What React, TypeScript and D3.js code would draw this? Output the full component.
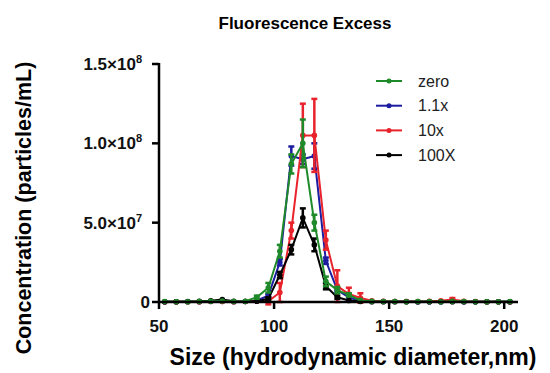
import React from 'react';
import * as d3 from 'd3';

// bin centres (nm)
const sizes = [
  52.5, 57.5, 62.5, 67.5, 72.5, 77.5, 82.5, 87.5, 92.5, 97.5, 102.5, 107.5, 112.5, 117.5, 122.5, 127.5,
  132.5, 137.5, 142.5, 147.5, 152.5, 157.5, 162.5, 167.5, 172.5, 177.5, 182.5, 187.5, 192.5, 197.5, 202.5,
];

// concentrations in 1e6 particles/mL
const zero = [0.3, 0.2, 0.2, 0.3, 0.5, 0.6, 0.3, 0.5, 3, 9, 32, 87, 100, 50, 13, 7.5, 4.5, 1, 0.5, 0.3, 0.3, 0.2, 0.3, 0.3, 0.2, 0.4, 0.3, 0.2, 0.2, 0.2, 0.3];
const zeroErr = [0, 0, 0, 0, 0, 0, 0, 0, 1, 3, 4, 6, 15, 5, 3, 2, 1, 0, 0, 0, 0, 0, 0, 0, 0, 0, 0, 0, 0, 0, 0];
const x11 = [0.2, 0.2, 0.2, 0.2, 0.3, 0.3, 0.2, 0.3, 1, 4, 25, 92, 90, 92, 26, 7.5, 3, 0.5, 0.3, 0.3, 0.3, 0.3, 0.2, 0.2, 0.2, 0.3, 0.2, 0.2, 0.2, 0.2, 0.2];
const x11Err = [0, 0, 0, 0, 0, 0, 0, 0, 0, 1, 2, 6, 3, 8, 2, 1, 0, 0, 0, 0, 0, 0, 0, 0, 0, 0, 0, 0, 0, 0, 0];
const x10 = [0.2, 0.2, 0.2, 0.2, 0.3, 0.3, 0.2, 0.3, 0.5, 0.5, 6, 45, 105, 105, 39, 10, 5, 2.5, 0.8, 0.5, 0.3, 0.3, 0.3, 0.5, 0.8, 1.5, 0.5, 0.3, 0.2, 0.2, 0.2];
const x10Err = [0, 0, 0, 0, 0, 0, 0, 0, 0, 2, 6, 5, 20, 23, 6, 10, 4, 3, 0, 0, 0, 0, 0, 0, 0, 1, 0, 0, 0, 0, 0];
const x100 = [0.2, 0.2, 0.3, 0.4, 0.8, 1.5, 0.5, 0.3, 0.5, 2, 17, 33, 53, 36, 10, 3, 1, 0.3, 0.2, 0.2, 0.2, 0.2, 0.2, 0.2, 0.2, 0.2, 0.2, 0.2, 0.2, 0.2, 0.2];
const x100Err = [0, 0, 0, 0, 0, 0, 0, 0, 0, 1, 2, 3, 6, 4, 2, 1, 0, 0, 0, 0, 0, 0, 0, 0, 0, 0, 0, 0, 0, 0, 0];

const xTicks = [50, 100, 150, 200];
const yTicks = [
  { v: 0, base: '0', exp: '' },
  { v: 5e7, base: '5.0×10', exp: '7' },
  { v: 1e8, base: '1.0×10', exp: '8' },
  { v: 1.5e8, base: '1.5×10', exp: '8' },
];

const series = [
  { name: 'zero', color: '#1f8a2a', values: zero, err: zeroErr },
  { name: '1.1x', color: '#1c1ca0', values: x11, err: x11Err },
  { name: '10x', color: '#e8232b', values: x10, err: x10Err },
  { name: '100X', color: '#000000', values: x100, err: x100Err },
];
// drawing order (last on top)
const drawOrder = ['1.1x', '10x', '100X', 'zero'];

const font = '"Liberation Sans", Arial, Helvetica, sans-serif';

export default function App() {
  const x = d3.scaleLinear().domain([50, 206]).range([159, 518]);
  const y = d3.scaleLinear().domain([0, 1.5e8]).range([302, 64]);
  const line = d3
    .line<[number, number]>()
    .x((d) => x(d[0]))
    .y((d) => y(d[1]));

  return (
    <svg width={550} height={373} style={{ position: 'absolute', left: 0, top: 0, background: '#fff' }}>
      <text x={305} y={29} textAnchor="middle" fontFamily={font} fontWeight="bold" fontSize={17}>
        Fluorescence Excess
      </text>

      {drawOrder.map((n) => {
        const s = series.find((d) => d.name === n)!;
        const pts: [number, number][] = sizes.map((v, i) => [v, s.values[i] * 1e6]);
        return (
          <g key={n}>
            <path d={line(pts) || ''} fill="none" stroke={s.color} strokeWidth={2} />
            {pts.map((p, i) =>
              s.err[i] > 0 ? (
                <g key={'e' + i} stroke={s.color} strokeWidth={2.5}>
                  <line x1={x(p[0])} x2={x(p[0])} y1={y(p[1] - s.err[i] * 1e6)} y2={y(p[1] + s.err[i] * 1e6)} />
                  <line x1={x(p[0]) - 3} x2={x(p[0]) + 3} y1={y(p[1] + s.err[i] * 1e6)} y2={y(p[1] + s.err[i] * 1e6)} />
                  <line x1={x(p[0]) - 3} x2={x(p[0]) + 3} y1={y(p[1] - s.err[i] * 1e6)} y2={y(p[1] - s.err[i] * 1e6)} />
                </g>
              ) : null
            )}
            {pts.map((p, i) => (
              <circle key={'c' + i} cx={x(p[0])} cy={y(p[1])} r={2.8} fill={s.color} />
            ))}
          </g>
        );
      })}

      {/* axes */}
      <g stroke="#000" strokeWidth={2.5}>
        <line x1={x(50)} x2={x(50)} y1={y(1.5e8) - 1} y2={y(0) + 1} />
        <line x1={x(50) - 1} x2={x(206)} y1={y(0)} y2={y(0)} />
        {yTicks.map((t) => (
          <line key={t.v} x1={x(50) - 7} x2={x(50)} y1={y(t.v)} y2={y(t.v)} />
        ))}
        {xTicks.map((t) => (
          <line key={t} x1={x(t)} x2={x(t)} y1={y(0)} y2={y(0) + 7} />
        ))}
      </g>
      <g fontFamily={font} fontWeight="bold" fill="#111">
        {yTicks.map((t) => (
          <text key={t.v} x={t.exp ? 142 : 150} y={y(t.v) + 6} textAnchor="end" fontSize={17}>
            {t.base}
            {t.exp && (
              <tspan fontSize={11} dy={-7}>
                {t.exp}
              </tspan>
            )}
          </text>
        ))}
        {xTicks.map((t) => (
          <text key={t} x={x(t)} y={332} textAnchor="middle" fontSize={17}>
            {t}
          </text>
        ))}
      </g>

      <text x={353} y={365} textAnchor="middle" fontFamily={font} fontWeight="bold" fontSize={23}>
        Size (hydrodynamic diameter,nm)
      </text>
      <text
        transform="translate(31,208) rotate(-90)"
        textAnchor="middle"
        fontFamily={font}
        fontWeight="bold"
        fontSize={21.5}
      >
        Concentration (particles/mL)
      </text>

      {/* legend */}
      {series.map((s, i) => {
        const ly = 81 + i * 24.7;
        return (
          <g key={s.name}>
            <line x1={376} x2={402} y1={ly} y2={ly} stroke={s.color} strokeWidth={2} />
            <circle cx={389} cy={ly} r={2.5} fill={s.color} />
            <text x={418} y={ly + 5.5} fontFamily={font} fontSize={16} fill="#222">
              {s.name}
            </text>
          </g>
        );
      })}
    </svg>
  );
}
